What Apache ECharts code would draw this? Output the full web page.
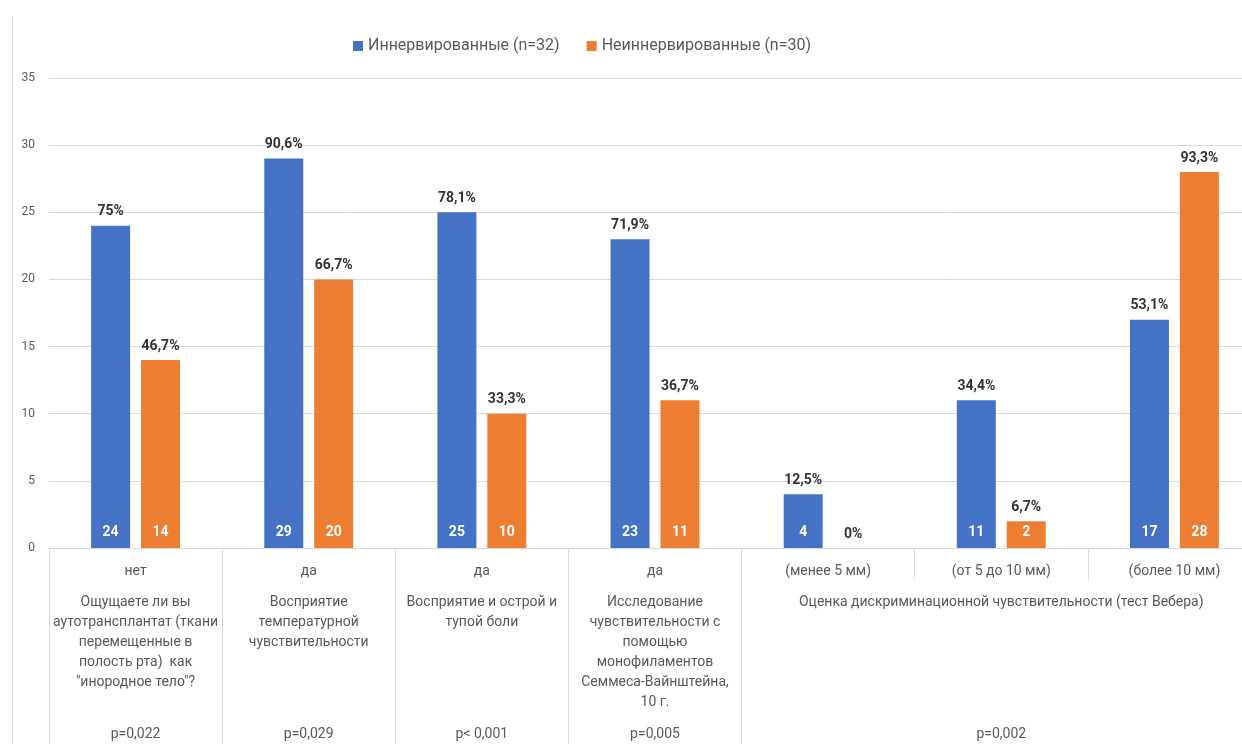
<!DOCTYPE html>
<html lang="ru">
<head>
<meta charset="utf-8">
<title>Чувствительность аутотрансплантата</title>
<script src="https://cdn.jsdelivr.net/npm/echarts@6/dist/echarts.min.js"></script>
<style>
  html, body { margin: 0; padding: 0; background: #ffffff; }
  #chart { width: 1242px; height: 744px; }
</style>
</head>
<body>
<div id="chart"></div>
<script>
// Answer / grade per column (first label row)
const categories = ['нет', 'да', 'да', 'да', '(менее 5 мм)', '(от 5 до 10 мм)', '(более 10 мм)'];
// Question per column (second label row); the Weber test spans the last three columns
const questions = [
  'Ощущаете ли вы\nаутотрансплантат (ткани\nперемещенные в\nполость рта)  как\n"инородное тело"?',
  'Восприятие\nтемпературной\nчувствительности',
  'Восприятие и острой и\nтупой боли',
  'Исследование\nчувствительности с\nпомощью\nмонофиламентов\nСеммеса-Вайнштейна,\n10 г.',
  '',
  'Оценка дискриминационной чувствительности (тест Вебера)',
  ''
];
// Significance row
const pValues = ['p=0,022', 'p=0,029', 'p< 0,001', 'p=0,005', '', 'p=0,002', ''];

// Patient counts
const innervated = [24, 29, 25, 23, 4, 11, 17];
const nonInnervated = [14, 20, 10, 11, 0, 2, 28];
// Shares of each group
const innervatedPct = ['75%', '90,6%', '78,1%', '71,9%', '12,5%', '34,4%', '53,1%'];
const nonInnervatedPct = ['46,7%', '66,7%', '33,3%', '36,7%', '0%', '6,7%', '93,3%'];

const seriesNames = ['Иннервированные (n=32)', 'Неиннервированные (n=30)'];
const colors = ['#4472C4', '#ED7D31'];

const FONT = 'Roboto, "Open Sans", "DejaVu Sans", sans-serif';
const GRID_LINE = '#d9d9d9';
const TEXT = '#595959';

const chart = echarts.init(document.getElementById('chart'), null, { renderer: 'canvas' });

const barCommon = {
  type: 'bar',
  barWidth: 39,
  barGap: '28%'
};

function countBar(name, data, color) {
  return Object.assign({}, barCommon, {
    name: name,
    xAxisIndex: 0,
    data: data,
    itemStyle: { color: color },
    label: {
      show: true,
      position: 'insideBottom',
      distance: 9,
      color: '#ffffff',
      fontWeight: 'bold',
      fontSize: 14,
      fontFamily: FONT,
      formatter: p => (p.value ? String(p.value) : '')
    }
  });
}

function shareBar(name, data, shares) {
  return Object.assign({}, barCommon, {
    name: name,
    xAxisIndex: 3,
    data: data,
    silent: true,
    z: 3,
    itemStyle: { color: 'rgba(0,0,0,0)' },
    label: {
      show: true,
      position: 'top',
      distance: 7,
      color: '#333333',
      fontWeight: 'bold',
      fontSize: 14,
      fontFamily: FONT,
      formatter: p => shares[p.dataIndex]
    }
  });
}

const option = {
  animation: false,
  backgroundColor: '#ffffff',
  textStyle: { fontFamily: FONT },
  color: colors,
  legend: {
    data: seriesNames,
    left: 348,
    top: 33,
    icon: 'rect',
    itemWidth: 10,
    itemHeight: 10,
    itemGap: 27,
    textStyle: { color: TEXT, fontSize: 16, fontFamily: FONT }
  },
  grid: {
    left: 49,
    top: 78,
    width: 1212,
    height: 470,
    containLabel: false,
    outerBoundsMode: 'none'
  },
  xAxis: [
    {
      type: 'category',
      position: 'bottom',
      data: categories,
      axisLine: { show: true, lineStyle: { color: GRID_LINE, width: 1 } },
      axisTick: {
        show: true,
        length: 196,
        interval: i => i !== 5 && i !== 6,
        lineStyle: { color: GRID_LINE }
      },
      axisLabel: { interval: 0, margin: 16, fontSize: 14, color: TEXT, fontFamily: FONT }
    },
    {
      type: 'category',
      position: 'bottom',
      data: questions,
      axisLine: { show: false },
      axisTick: {
        show: true,
        length: 32,
        interval: i => i === 5 || i === 6,
        lineStyle: { color: GRID_LINE }
      },
      axisLabel: {
        interval: 0, margin: 44, fontSize: 14, lineHeight: 20,
        color: TEXT, fontFamily: FONT, align: 'center'
      }
    },
    {
      type: 'category',
      position: 'bottom',
      data: pValues,
      axisLine: { show: false },
      axisTick: { show: false },
      axisLabel: { interval: 0, margin: 179, fontSize: 14, color: TEXT, fontFamily: FONT }
    },
    {
      type: 'category',
      position: 'bottom',
      data: categories,
      show: false
    }
  ],
  yAxis: {
    type: 'value',
    min: 0,
    max: 35,
    interval: 5,
    axisLine: { show: false },
    axisTick: { show: false },
    splitLine: { lineStyle: { color: GRID_LINE, width: 1 } },
    axisLabel: { margin: 14, fontSize: 12, color: TEXT, fontFamily: FONT }
  },
  graphic: [
    {
      type: 'line',
      shape: { x1: 12.5, y1: 16, x2: 12.5, y2: 744 },
      style: { stroke: GRID_LINE, lineWidth: 1 },
      silent: true
    }
  ],
  series: [
    countBar(seriesNames[0], innervated, colors[0]),
    countBar(seriesNames[1], nonInnervated, colors[1]),
    shareBar('Иннервированные, %', innervated, innervatedPct),
    shareBar('Неиннервированные, %', nonInnervated, nonInnervatedPct)
  ]
};

chart.setOption(option);
</script>
</body>
</html>
